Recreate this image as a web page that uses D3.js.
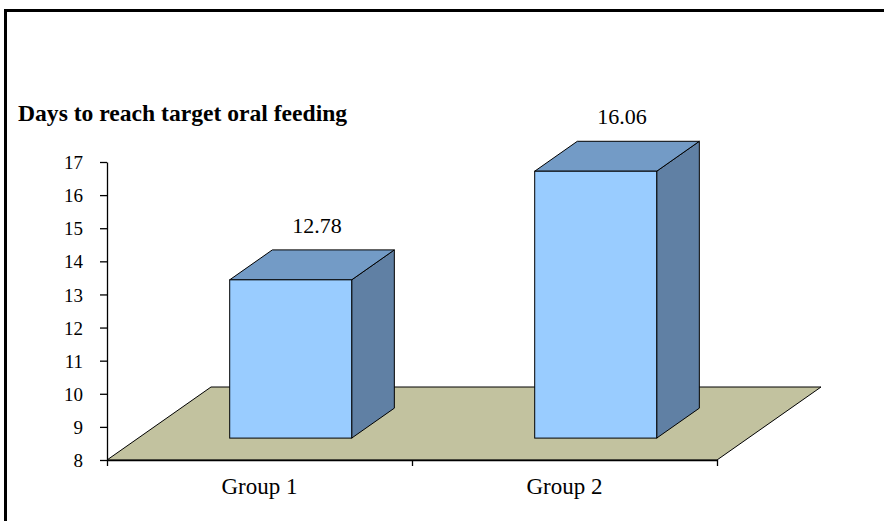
<!DOCTYPE html>
<html>
<head>
<meta charset="utf-8">
<script src="https://cdn.jsdelivr.net/npm/d3@7"></script>
<style>
  body { margin: 0; background: #fff; }
</style>
</head>
<body>
<script>
const groups = ["Group 1", "Group 2"];
const days = [12.78, 16.06];
const yTicks = [8, 9, 10, 11, 12, 13, 14, 15, 16, 17];

const W = 884, H = 521;
const plotL = 107, plotR = 717, plotB = 460, plotT = 162;
const serif = "'Liberation Serif', 'Times New Roman', Times, serif";

// 3d depth of the floor and where the bars sit inside it
const depth = {dx: 104, dy: -73};
const barFront = 0.3, barBack = 0.71;

const svg = d3.select("body").append("svg")
    .attr("width", W)
    .attr("height", H);

// frame
svg.append("rect")
    .attr("x", 5.5).attr("y", 10.5)
    .attr("width", W + 10).attr("height", H + 10)
    .attr("fill", "none")
    .attr("stroke", "#000")
    .attr("stroke-width", 3);

const y = d3.scaleLinear()
    .domain([8, 17])
    .range([plotB, plotT]);

const x = d3.scaleBand()
    .domain(groups)
    .range([plotL, plotR])
    .paddingInner(0.6)
    .paddingOuter(0.3);

const xEdge = d3.scaleLinear()
    .domain([0, groups.length])
    .range([plotL, plotR]);

// floor
const fl = [[plotL, plotB], [plotR, plotB],
  [plotR + depth.dx, plotB + depth.dy], [plotL + depth.dx, plotB + depth.dy]];
svg.append("path")
    .attr("d", "M" + fl.join("L") + "Z")
    .attr("fill", "#c2c29f")
    .attr("stroke", "#000")
    .attr("stroke-width", 1);

// y axis
svg.append("g")
    .attr("transform", `translate(${plotL},0)`)
    .call(d3.axisLeft(y).tickValues(yTicks).tickSize(7).tickPadding(17).tickSizeOuter(0))
    .call(g => g.selectAll("text")
        .style("font-family", serif).style("font-size", "19px")
        .attr("fill", "#000").attr("dy", "0.35em"))
    .call(g => g.selectAll("line, path").attr("stroke", "#000").attr("stroke-width", 1.3));

// x axis, ticks at category edges
svg.append("g")
    .attr("transform", `translate(0,${plotB})`)
    .call(d3.axisBottom(xEdge).ticks(groups.length).tickSize(6).tickFormat("").tickSizeOuter(0))
    .call(g => g.selectAll("line, path").attr("stroke", "#000").attr("stroke-width", 1.3));

svg.append("g")
    .selectAll("text")
    .data(groups)
  .enter().append("text")
    .attr("x", d => x(d) + x.bandwidth() / 2)
    .attr("y", 494)
    .attr("text-anchor", "middle")
    .style("font-family", serif)
    .style("font-size", "23px")
    .text(d => d);

// bars
const bw = x.bandwidth();
const bdx = depth.dx * (barBack - barFront), bdy = depth.dy * (barBack - barFront);
const bars = svg.selectAll(".bar")
    .data(groups.map((g, i) => ({g, v: days[i]})))
  .enter().append("g")
    .attr("class", "bar")
    .attr("transform", `translate(${depth.dx * barFront},${depth.dy * barFront})`);

bars.append("path") // side
    .attr("d", d => {
      const x1 = x(d.g) + bw, y0 = y(8), y1 = y(d.v);
      return `M${x1},${y1}L${x1 + bdx},${y1 + bdy}L${x1 + bdx},${y0 + bdy}L${x1},${y0}Z`;
    })
    .attr("fill", "#6080a4")
    .attr("stroke", "#000")
    .attr("stroke-linejoin", "round");

bars.append("path") // top
    .attr("d", d => {
      const x0 = x(d.g), x1 = x0 + bw, y1 = y(d.v);
      return `M${x0},${y1}L${x0 + bdx},${y1 + bdy}L${x1 + bdx},${y1 + bdy}L${x1},${y1}Z`;
    })
    .attr("fill", "#739bc6")
    .attr("stroke", "#000")
    .attr("stroke-linejoin", "round");

bars.append("rect") // front
    .attr("x", d => x(d.g))
    .attr("y", d => y(d.v))
    .attr("width", bw)
    .attr("height", d => y(8) - y(d.v))
    .attr("fill", "#99ccff")
    .attr("stroke", "#000");

bars.append("text")
    .attr("x", d => x(d.g) + bw / 2 + bdx / 2 + 5)
    .attr("y", d => y(d.v) + bdy - 17)
    .attr("text-anchor", "middle")
    .style("font-family", serif)
    .style("font-size", "22px")
    .text(d => d.v.toFixed(2));

// title
svg.append("text")
    .attr("x", 18)
    .attr("y", 121)
    .style("font-family", serif)
    .style("font-size", "23.6px")
    .style("font-weight", "bold")
    .text("Days to reach target oral feeding");
</script>
</body>
</html>
